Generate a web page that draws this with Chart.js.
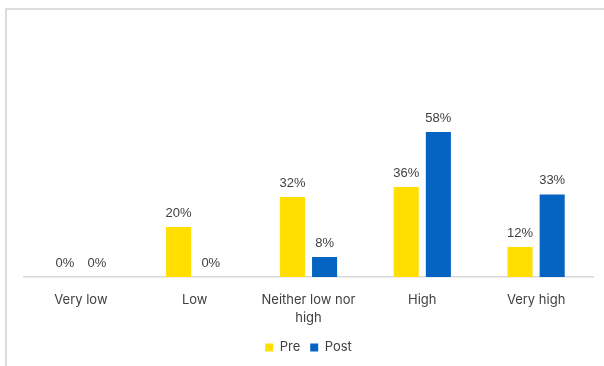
<!DOCTYPE html>
<html>
<head>
<meta charset="utf-8">
<script src="https://cdn.jsdelivr.net/npm/chart.js@4.4.1/dist/chart.umd.min.js"></script>
<style>
  html, body { margin: 0; padding: 0; background: #fff; }
  #wrap { position: absolute; left: 0; top: 0; width: 604px; height: 366px; }
  #frame { position: absolute; left: 5px; top: 8px; width: 610px; height: 370px;
           border: 2px solid #dcdcdc; box-sizing: border-box; }
  canvas { position: absolute; left: 0; top: 0; }
</style>
</head>
<body>
<div id="wrap">
  <div id="frame"></div>
  <canvas id="myChart" width="604" height="366"></canvas>
</div>
<script>
// categories and percentages per group
const categories = ['Very low', 'Low', ['Neither low nor', 'high'], 'High', 'Very high'];
const preValues = [0, 20, 32, 36, 12];
const postValues = [0, 0, 8, 58, 33];

// prints "NN%" above every bar
const valueLabels = {
    id: 'valueLabels',
    afterDatasetsDraw(chart) {
        const ctx = chart.ctx;
        ctx.save();
        ctx.font = '13px "Liberation Sans", Arial, sans-serif';
        ctx.fillStyle = '#404040';
        ctx.textAlign = 'center';
        ctx.textBaseline = 'middle';
        chart.data.datasets.forEach((ds, i) => {
            const meta = chart.getDatasetMeta(i);
            meta.data.forEach((bar, j) => {
                ctx.fillText(ds.data[j] + '%', bar.x, bar.y - 14);
            });
        });
        ctx.restore();
    }
};

var ctx = document.getElementById('myChart').getContext('2d');
var chart = new Chart(ctx, {
    type: 'bar',
    data: {
        labels: categories,
        datasets: [{
                label: 'Pre',
                backgroundColor: '#FFDE00',
                data: preValues
            },
            {
                label: 'Post',
                backgroundColor: '#0563C1',
                data: postValues
            }
        ]
    },
    options: {
        responsive: false,
        animation: false,
        categoryPercentage: 0.565,
        barPercentage: 0.78,
        layout: {
            padding: { top: 27, left: 24, right: 11, bottom: 2 }
        },
        plugins: {
            tooltip: { enabled: false },
            legend: {
                position: 'bottom',
                labels: {
                    boxWidth: 8,
                    boxHeight: 8,
                    padding: 10,
                    color: '#404040',
                    font: { family: 'Inter', size: 13 }
                }
            }
        },
        scales: {
            x: {
                grid: { display: false },
                border: { display: true, color: '#d9d9d9', width: 1.5 },
                ticks: {
                    padding: 6,
                    color: '#404040',
                    maxRotation: 0,
                    font: { family: 'Inter', size: 13, lineHeight: 1.4 }
                },
                afterFit: function (scale) {
                    scale.height = 54;
                }
            },
            y: {
                display: false,
                min: 0,
                max: 100
            }
        }
    },
    plugins: [valueLabels]
});
</script>
</body>
</html>
